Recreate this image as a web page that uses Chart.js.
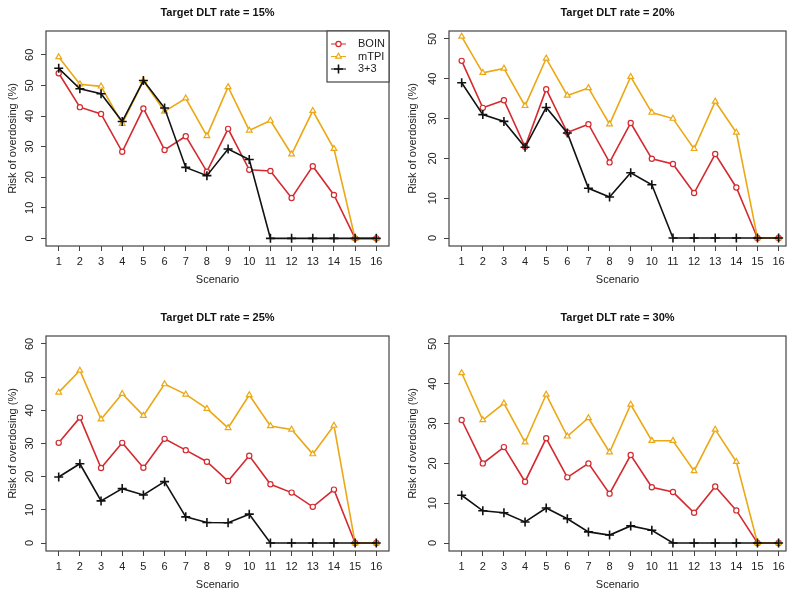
<!DOCTYPE html>
<html>
<head>
<meta charset="utf-8">
<script src="https://cdn.jsdelivr.net/npm/chart.js@4.4.1/dist/chart.umd.min.js"></script>
<style>
  html, body { margin: 0; padding: 0; background: #fff; overflow: hidden; }
  #wrap { position: relative; width: 800px; height: 596px; overflow: hidden; }
  canvas { position: absolute; }
</style>
</head>
<body>
<div id="wrap">
  <canvas id="p15" width="400" height="300" style="left:0;top:0"></canvas>
  <canvas id="p20" width="400" height="300" style="left:400px;top:0"></canvas>
  <canvas id="p25" width="400" height="300" style="left:0;top:305px"></canvas>
  <canvas id="p30" width="400" height="300" style="left:400px;top:305px"></canvas>
</div>
<script>
const scenarios = [1, 2, 3, 4, 5, 6, 7, 8, 9, 10, 11, 12, 13, 14, 15, 16];
const targetRates = ['15%', '20%', '25%', '30%'];
const methods = ['BOIN', 'mTPI', '3+3'];

// risk of overdosing (%) per scenario
const boin15 = [54.0, 42.9, 40.7, 28.3, 42.5, 28.9, 33.4, 21.8, 35.8, 22.4, 22.0, 13.2, 23.6, 14.2, 0, 0];
const mtpi15 = [59.3, 50.4, 49.7, 37.5, 51.5, 41.5, 45.8, 33.5, 49.5, 35.3, 38.5, 27.5, 41.7, 29.3, 0, 0];
const three15 = [55.6, 48.9, 47.3, 38.2, 51.6, 42.6, 23.2, 20.5, 29.2, 25.8, 0, 0, 0, 0, 0, 0];

const boin20 = [44.5, 32.7, 34.6, 22.9, 37.4, 26.5, 28.6, 19.0, 28.9, 19.9, 18.6, 11.3, 21.1, 12.7, 0, 0];
const mtpi20 = [50.6, 41.5, 42.6, 33.2, 45.1, 35.8, 37.7, 28.6, 40.5, 31.5, 30.0, 22.4, 34.3, 26.5, 0, 0];
const three20 = [39.0, 31.0, 29.3, 22.8, 32.8, 26.4, 12.5, 10.3, 16.4, 13.4, 0, 0, 0, 0, 0, 0];

const boin25 = [30.2, 37.8, 22.6, 30.2, 22.7, 31.4, 28.0, 24.5, 18.7, 26.3, 17.7, 15.2, 10.9, 16.1, 0, 0];
const mtpi25 = [45.4, 52.0, 37.3, 45.0, 38.4, 47.9, 44.8, 40.5, 34.7, 44.6, 35.3, 34.2, 26.8, 35.4, 0, 0];
const three25 = [19.9, 23.9, 12.7, 16.4, 14.5, 18.5, 7.9, 6.2, 6.1, 8.7, 0, 0, 0, 0, 0, 0];

const boin30 = [30.9, 20.0, 24.1, 15.4, 26.3, 16.5, 20.0, 12.4, 22.1, 14.0, 12.8, 7.6, 14.2, 8.2, 0, 0];
const mtpi30 = [42.7, 30.9, 35.1, 25.3, 37.3, 26.8, 31.4, 22.8, 34.8, 25.7, 25.7, 18.1, 28.5, 20.4, 0, 0];
const three30 = [12.0, 8.1, 7.6, 5.3, 8.8, 6.1, 2.8, 2.0, 4.3, 3.2, 0, 0, 0, 0, 0, 0];

const yTicks15 = [0, 10, 20, 30, 40, 50, 60];
const yTicks20 = [0, 10, 20, 30, 40, 50];
const yTicks25 = [0, 10, 20, 30, 40, 50, 60];
const yTicks30 = [0, 10, 20, 30, 40, 50];

const FONT = "'Liberation Sans', Arial, Helvetica, sans-serif";
const RED = '#d42a2f';
const GOLD = '#eba814';
const INK = '#222';
const BOX = '#444';

const toPoints = (vals) => vals.map((v, i) => ({ x: scenarios[i], y: v }));

// box round the plot region, like R's box()
const framePlugin = {
  id: 'frame',
  afterDraw(chart) {
    const { ctx, chartArea: a } = chart;
    ctx.save();
    ctx.strokeStyle = BOX;
    ctx.lineWidth = 1.2;
    ctx.strokeRect(a.left, a.top, a.right - a.left, a.bottom - a.top);
    ctx.restore();
  }
};

// boxed legend in the top right corner of the plot
const cornerLegend = {
  id: 'cornerLegend',
  afterDraw(chart) {
    const { ctx, chartArea: a } = chart;
    const w = 62, h = 51;
    const x0 = a.right - w, y0 = a.top;
    ctx.save();
    ctx.fillStyle = '#fff';
    ctx.fillRect(x0, y0, w, h);
    ctx.strokeStyle = BOX;
    ctx.lineWidth = 1.2;
    ctx.strokeRect(x0, y0, w, h);
    const rows = [13, 25.5, 38];
    // datasets are stored 3+3, mTPI, BOIN; legend lists BOIN first
    const order = [2, 1, 0];
    order.forEach((di, r) => {
      const ds = chart.data.datasets[di];
      const y = y0 + rows[r];
      ctx.strokeStyle = ds.borderColor;
      ctx.lineWidth = 1;
      ctx.beginPath();
      ctx.moveTo(x0 + 4, y);
      ctx.lineTo(x0 + 19, y);
      ctx.stroke();
      if (Chart.helpers && Chart.helpers.drawPoint) {
        ctx.fillStyle = '#fff';
        ctx.lineWidth = ds.pointBorderWidth;
        Chart.helpers.drawPoint(ctx, {
          pointStyle: ds.pointStyle, radius: ds.pointRadius, rotation: 0, borderWidth: ds.pointBorderWidth
        }, x0 + 11.5, y);
      }
      ctx.fillStyle = INK;
      ctx.font = '11px ' + FONT;
      ctx.textAlign = 'left';
      ctx.textBaseline = 'middle';
      ctx.fillText(ds.label, x0 + 31, y);
    });
    ctx.restore();
  }
};

function makePanel(id, rate, boin, mtpi, three, yTicks, yMin, yMax, xMax, leftWidth, rightPad, withLegend) {
  const data = {
    datasets: [
      {
        label: methods[2], data: toPoints(three), borderColor: '#111', backgroundColor: '#111',
        borderWidth: 1.6, pointStyle: 'cross', pointRadius: 4.5, pointBorderWidth: 1.6, order: 0
      },
      {
        label: methods[1], data: toPoints(mtpi), borderColor: GOLD, backgroundColor: '#fff',
        borderWidth: 1.6, pointStyle: 'triangle', pointRadius: 3.3, pointBorderWidth: 1.2, order: 1
      },
      {
        label: methods[0], data: toPoints(boin), borderColor: RED, backgroundColor: '#fff',
        borderWidth: 1.6, pointStyle: 'circle', pointRadius: 2.6, pointBorderWidth: 1.2, order: 2
      }
    ]
  };

  const options = {
    responsive: false,
    animation: false,
    layout: { padding: { top: 0, right: rightPad, bottom: 0, left: 0 } },
    elements: { line: { tension: 0 } },
    plugins: {
      legend: { display: false },
      tooltip: { enabled: false },
      title: {
        display: true,
        text: 'Target DLT rate = ' + rate,
        fullSize: false,
        color: '#111',
        font: { family: FONT, size: 11, weight: 'bold' },
        padding: { top: 6.4, bottom: 11.4 }
      }
    },
    scales: {
      x: {
        type: 'linear',
        min: 0.4,
        max: xMax,
        afterBuildTicks: (scale) => { scale.ticks = scenarios.map(v => ({ value: v })); },
        afterFit: (scale) => { scale.height = 54; },
        grid: { drawOnChartArea: false, drawTicks: true, tickLength: 5, color: BOX, lineWidth: 1 },
        border: { display: false },
        ticks: { autoSkip: false, maxRotation: 0, color: INK, padding: 4, font: { family: FONT, size: 11 } },
        title: { display: true, text: 'Scenario', color: INK, padding: 13.4, font: { family: FONT, size: 11 } }
      },
      y: {
        min: yMin,
        max: yMax,
        afterBuildTicks: (scale) => { scale.ticks = yTicks.map(v => ({ value: v })); },
        afterFit: (scale) => { scale.width = leftWidth; },
        grid: { drawOnChartArea: false, drawTicks: true, tickLength: 5, color: BOX, lineWidth: 1 },
        border: { display: false },
        ticks: {
          minRotation: 90, maxRotation: 90, crossAlign: 'center', padding: 5,
          color: INK, font: { family: FONT, size: 11 }
        },
        title: { display: true, text: 'Risk of overdosing (%)', color: INK, padding: 6.4, font: { family: FONT, size: 11 } }
      }
    }
  };

  const plugins = [framePlugin];
  if (withLegend) plugins.push(cornerLegend);

  new Chart(document.getElementById(id), { type: 'line', data, options, plugins });
}

makePanel('p15', targetRates[0], boin15, mtpi15, three15, yTicks15, -2.5, 67.8, 16.6, 46, 11, true);
makePanel('p20', targetRates[1], boin20, mtpi20, three20, yTicks20, -2, 52, 16.35, 49, 14, false);
makePanel('p25', targetRates[2], boin25, mtpi25, three25, yTicks25, -2.4, 62.4, 16.6, 46, 11, false);
makePanel('p30', targetRates[3], boin30, mtpi30, three30, yTicks30, -2, 52, 16.35, 49, 14, false);
</script>
</body>
</html>
